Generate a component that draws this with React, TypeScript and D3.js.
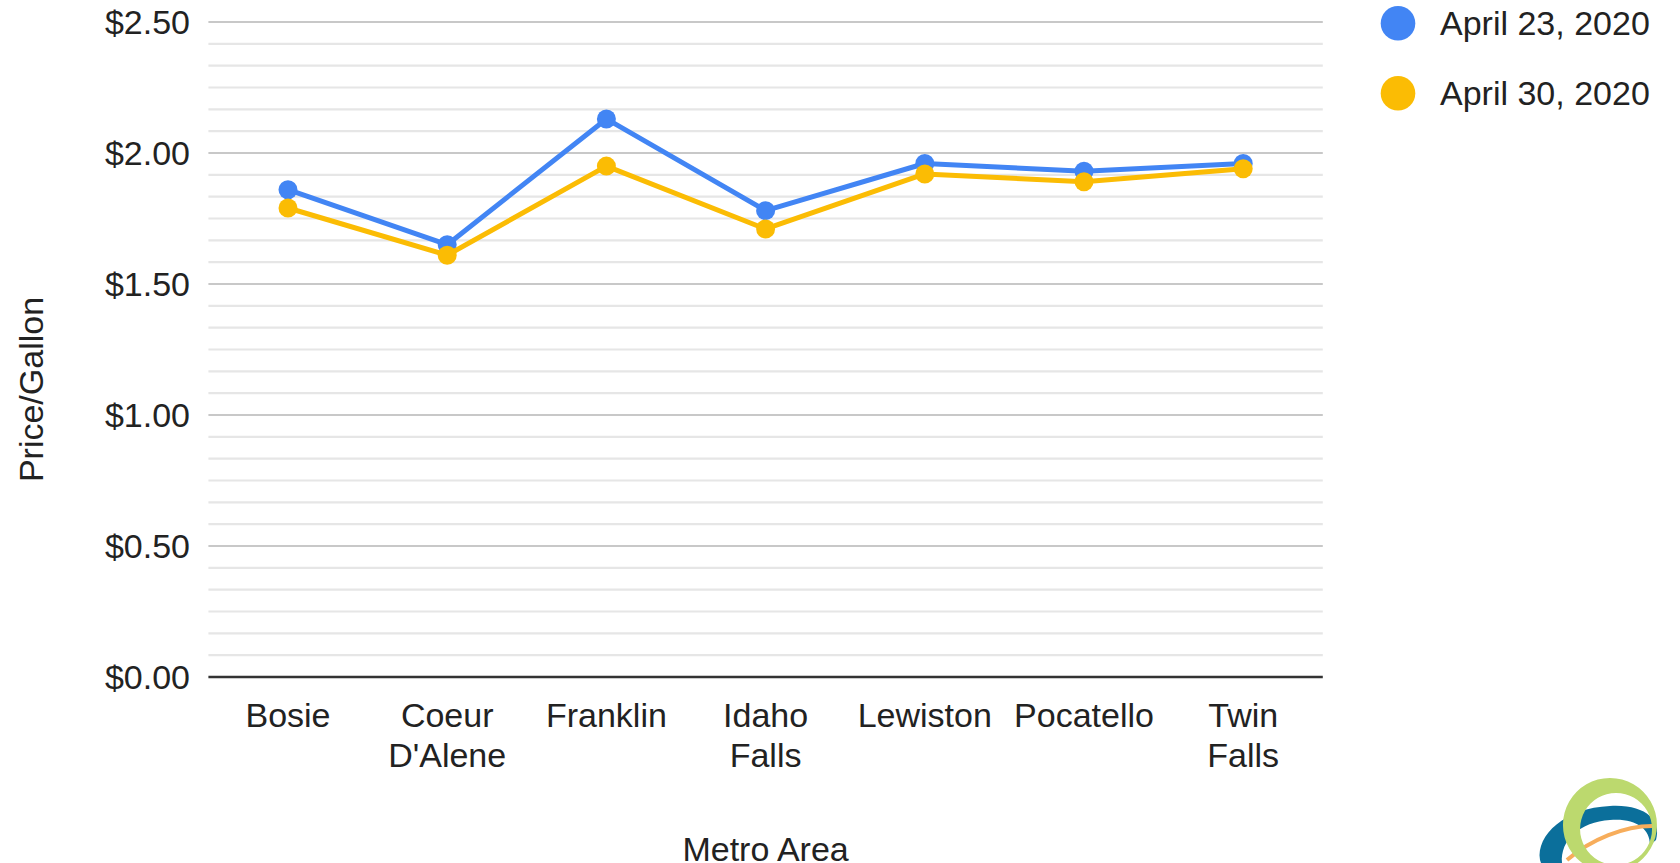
import React from "react";
import * as d3 from "d3";

const categories = ["Bosie", "Coeur D'Alene", "Franklin", "Idaho Falls", "Lewiston", "Pocatello", "Twin Falls"];
const categoryLines = [["Bosie"], ["Coeur", "D'Alene"], ["Franklin"], ["Idaho", "Falls"], ["Lewiston"], ["Pocatello"], ["Twin", "Falls"]];
const april23 = [1.86, 1.65, 2.13, 1.78, 1.96, 1.93, 1.96];
const april30 = [1.79, 1.61, 1.95, 1.71, 1.92, 1.89, 1.94];
const seriesNames = ["April 23, 2020", "April 30, 2020"];
const seriesColors = ["#4285f4", "#fbbc04"];
const yTicks = [0, 0.5, 1.0, 1.5, 2.0, 2.5];

const W = 1680;
const H = 863;
const FONT = "'Liberation Sans', Arial, sans-serif";
const FS = 34;

export default function App() {
  const x = d3.scaleBand<string>().domain(categories).range([208.4, 1322.8]).padding(0);
  const y = d3.scaleLinear().domain([0, 2.5]).range([677, 22]);
  const fmt = (v: number) => "$" + d3.format(".2f")(v);
  const minor: number[] = [];
  for (let i = 0; i < yTicks.length - 1; i++) {
    for (let k = 1; k < 6; k++) minor.push(yTicks[i] + ((yTicks[i + 1] - yTicks[i]) * k) / 6);
  }
  const cx = (c: string) => (x(c) as number) + x.bandwidth() / 2;
  const line = d3
    .line<number>()
    .x((_, i) => cx(categories[i]))
    .y((d) => y(d));
  const series = [april23, april30];
  const [x0, x1] = x.range();

  return (
    <div style={{ position: "absolute", left: 0, top: 0 }}>
      <svg width={W} height={H} style={{ display: "block", background: "#fff" }} fontFamily={FONT}>
        <rect width={W} height={H} fill="#fff" />
        {minor.map((v, i) => (
          <line key={"m" + i} x1={x0} x2={x1} y1={y(v)} y2={y(v)} stroke="#e6e6e6" strokeWidth={2.2} />
        ))}
        {yTicks.slice(1).map((v) => (
          <line key={"g" + v} x1={x0} x2={x1} y1={y(v)} y2={y(v)} stroke="#c8c8c8" strokeWidth={2.2} />
        ))}
        <line x1={x0} x2={x1} y1={y(0)} y2={y(0)} stroke="#333333" strokeWidth={2.6} />
        {yTicks.map((v) => (
          <text key={"t" + v} x={190} y={y(v) + 11.7} textAnchor="end" fontSize={FS} fill="#222">
            {fmt(v)}
          </text>
        ))}
        {categories.map((c, i) => (
          <text key={c} x={cx(c)} y={727} textAnchor="middle" fontSize={FS} fill="#222">
            {categoryLines[i].map((t, j) => (
              <tspan key={j} x={cx(c)} dy={j === 0 ? 0 : 40}>
                {t}
              </tspan>
            ))}
          </text>
        ))}
        <text x={(x0 + x1) / 2} y={861} textAnchor="middle" fontSize={FS} fill="#222">
          Metro Area
        </text>
        <text
          transform={`translate(42.7, ${(y(0) + y(2.5)) / 2 + 40}) rotate(-90)`}
          textAnchor="middle"
          fontSize={FS}
          fill="#222"
        >
          Price/Gallon
        </text>
        {series.map((s, si) => (
          <g key={"s" + si}>
            <path d={line(s) as string} fill="none" stroke={seriesColors[si]} strokeWidth={5} strokeLinejoin="round" />
            {s.map((v, i) => (
              <circle key={i} cx={cx(categories[i])} cy={y(v)} r={9.5} fill={seriesColors[si]} />
            ))}
          </g>
        ))}
        {seriesNames.map((n, i) => (
          <g key={n} transform={`translate(0, ${i * 70})`}>
            <circle cx={1398} cy={23.3} r={17.3} fill={seriesColors[i]} />
            <text x={1440} y={35} fontSize={FS} fill="#222">
              {n}
            </text>
          </g>
        ))}
        <g>
          <path
            d="M1540,860 C1536,835 1565,808 1610,806 C1645,804 1662,820 1656,840 L1650,845 C1650,828 1635,818 1610,820 C1580,822 1560,840 1562,863 L1541,863 Z"
            fill="#0b6f9b"
          />
          <path d="M1567,860 C1590,840 1625,825 1655,826" fill="none" stroke="#f7ad5b" strokeWidth={4} />
          <path
            d="M1610,778 A47,47 0 1,1 1609.9,778 Z M1616,793 A36,36 0 1,0 1616.1,793 Z"
            fill="#bcd96e"
            fillRule="evenodd"
          />
        </g>
      </svg>
    </div>
  );
}
